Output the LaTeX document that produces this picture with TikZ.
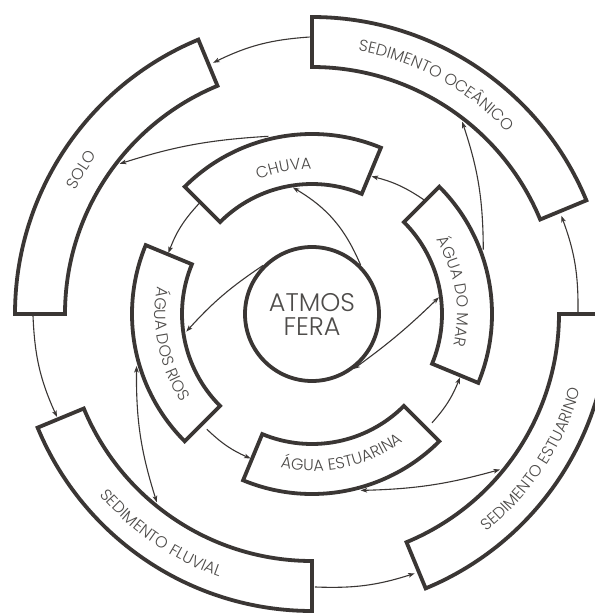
\documentclass[tikz,border=0pt]{standalone}
\usepackage{fontspec}
\setmainfont{Poppins}[UprightFont=* Light]
\usetikzlibrary{arrows.meta,decorations.text}
\definecolor{ink}{HTML}{3A3634}
\definecolor{txt}{HTML}{4E4C4A}
\newcommand\lblfont{\color{txt}\fontsize{16}{16}\selectfont}
\newcommand\ringbox[4]{%
  \draw[boxline] (#1:#3) arc[start angle=#1,end angle=#2,radius=#3]
    -- (#2:#4) arc[start angle=#2,end angle=#1,radius=#4] -- cycle;}
\newcommand\arclabel[4]{% start angle, end angle, radius, text
  \path[decorate,decoration={text along path,text align=center,
    text={|\lblfont|#4}}] (#1:#3) arc[start angle=#1,end angle=#2,radius=#3];}
\begin{document}
\begin{tikzpicture}[x=1pt,y=1pt,
  boxline/.style={draw=ink,line width=3.8pt,line join=miter},
  >={Stealth[length=6.5pt,width=4.6pt,inset=1.6pt]},
  conn/.style={draw=ink,line width=1.1pt}]
\useasboundingbox (-312,-300) rectangle (283,314);
\clip (-312,-300) rectangle (283,314);
\fill[white] (-312,-300) rectangle (283,314);

% centre
\node[draw=ink,line width=3.8pt,circle,minimum size=134pt,inner sep=0pt,
  text=txt,font=\fontsize{25.5}{24}\selectfont,align=center] (atm) at (0,0) {ATMOS\\FERA};

% inner ring
\ringbox{67.5}{135}{130pt}{180pt}
\ringbox{157.5}{225}{130pt}{180pt}
\ringbox{247.5}{315}{130pt}{180pt}
\ringbox{-22.5}{45}{130pt}{180pt}
% outer ring
\ringbox{22.5}{90}{247pt}{297pt}
\ringbox{112.5}{180}{247pt}{297pt}
\ringbox{202.5}{270}{247pt}{297pt}
\ringbox{292.5}{360}{247pt}{297pt}

% labels
\arclabel{131}{71}{145pt}{CHUVA}
\arclabel{40}{-22}{145pt}{ÁGUA DO MAR}
\arclabel{250}{314}{157pt}{ÁGUA ESTUARINA}
\arclabel{160}{224}{157pt}{ÁGUA DOS RIOS}
\arclabel{94.5}{28.5}{267pt}{SEDIMENTO OCEÂNICO}
\arclabel{178}{118}{267pt}{SOLO}
\arclabel{205}{266}{279pt}{SEDIMENTO FLUVIAL}
\arclabel{295}{358}{279pt}{SEDIMENTO ESTUARINO}

% connector end points
\coordinate (oceL) at (90.5:277pt);
\coordinate (soloT) at (111.5:270pt);
\coordinate (chuvaO) at (103.8:183pt);
\coordinate (soloI) at (142:244pt);
\coordinate (chuvaL) at (135.6:158pt);
\coordinate (riosT) at (157:156pt);
\coordinate (riosI) at (188:127pt);
\coordinate (chuvaI) at (98.6:128pt);
\coordinate (marT) at (45.4:160pt);
\coordinate (chuvaR) at (66.6:150pt);
\coordinate (marO) at (20.6:183pt);
\coordinate (oceI) at (52:244pt);
\coordinate (marI) at (7.5:128pt);
\coordinate (estaR) at (-42.2:162pt);
\coordinate (marB) at (-23.2:161pt);
\coordinate (riosB) at (227.6:156pt);
\coordinate (estaL) at (247:157pt);
\coordinate (riosO) at (196.5:183pt);
\coordinate (fluvI) at (230.5:244pt);
\coordinate (estaO) at (-74.6:183pt);
\coordinate (estoI) at (-39.6:244pt);
\coordinate (soloB) at (180.4:279pt);
\coordinate (fluvT) at (202:275pt);
\coordinate (fluvR) at (270.6:273pt);
\coordinate (estoB) at (291.6:279pt);
\coordinate (estoT) at (0.3:266pt);
\coordinate (oceB) at (21.5:268pt);

% connectors
\draw[conn,->] (oceL) to[bend right=11] (soloT);
\draw[conn,->] (chuvaO) to[bend right=7] (soloI);
\draw[conn,->] (chuvaL) to[bend right=11] (riosT);
\draw[conn,->] (atm.135.6) to[bend right=7] (riosI);
\draw[conn,->] (atm.45.6) to[bend right=18] (chuvaI);
\draw[conn,->] (marT) to[bend right=10] (chuvaR);
\draw[conn,->] (marO) to[bend right=9] (oceI);
\draw[conn,<->] (atm.307.3) to[bend right=4] (marI);
\draw[conn,->] (estaR) to[bend right=10] (marB);
\draw[conn,->] (riosB) to[bend right=10] (estaL);
\draw[conn,<->] (riosO) to[bend right=9] (fluvI);
\draw[conn,<->] (estaO) to[bend right=7] (estoI);
\draw[conn,->] (soloB) to[bend right=11] (fluvT);
\draw[conn,->] (fluvR) to[bend right=10] (estoB);
\draw[conn,->] (estoT) to[bend right=10.5] (oceB);
\end{tikzpicture}
\end{document}
